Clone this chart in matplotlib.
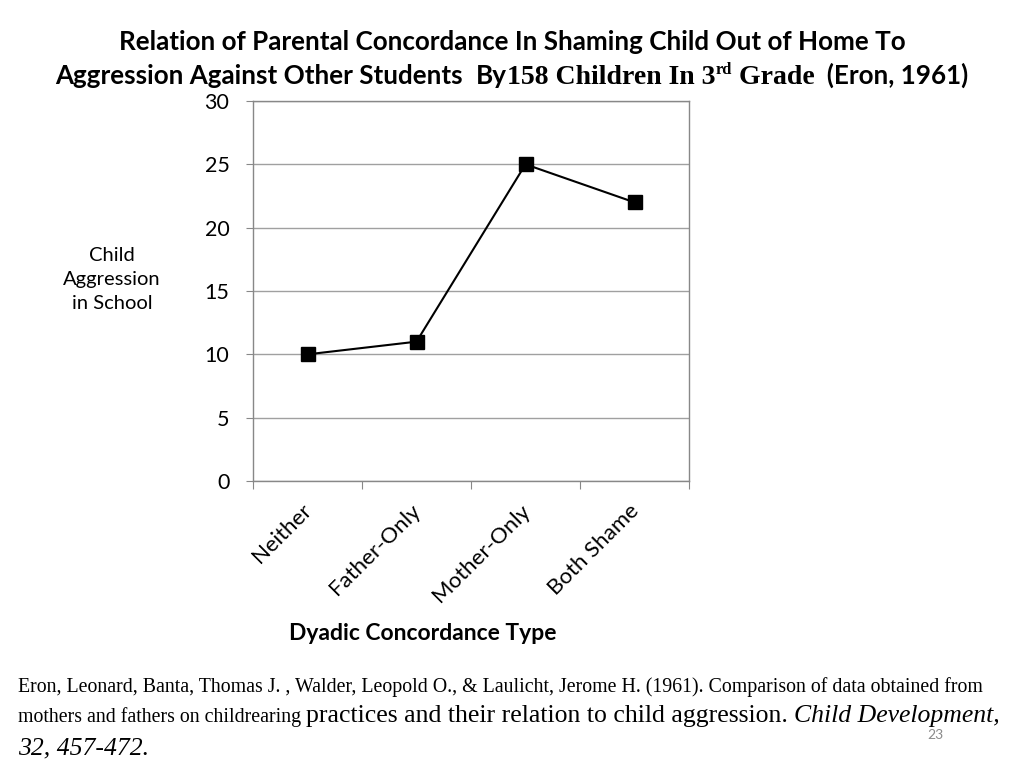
import matplotlib
matplotlib.use("Agg")
import matplotlib.pyplot as plt
from matplotlib.transforms import ScaledTranslation

# data
categories = ['Neither', 'Father-Only', 'Mother-Only', 'Both Shame']
aggression = [10, 11, 25, 22]
yticks = [0, 5, 10, 15, 20, 25, 30]

SANS = 'Lato'
SERIF = 'Liberation Serif'

fig = plt.figure(figsize=(10.24, 7.68), dpi=100)
W, H = 1024, 768
renderer = fig.canvas.get_renderer()


def put_line(runs, x0, y_px, align='left'):
    # runs: (text, kwargs, rise in px); positions in pixels from top-left
    texts = []
    for s, kw, rise in runs:
        t = fig.text(0, 1 - (y_px - rise) / H, s, va='baseline', **kw)
        texts.append(t)
    widths = [t.get_window_extent(renderer).width for t in texts]
    x = x0 - sum(widths) / 2 if align == 'center' else x0
    for t, w in zip(texts, widths):
        t.set_x(x / W)
        x += w


ax = fig.add_axes([253 / W, 1 - 481 / H, (689 - 253) / W, (481 - 101) / H])
xpos = [i + 0.5 for i in range(len(categories))]
ax.plot(xpos, aggression, color='black', lw=1.5, marker='s', ms=10, zorder=3)
ax.set_xlim(0, 4)
ax.set_ylim(0, 30)
ax.set_yticks(yticks)
ax.set_yticklabels([str(v) for v in yticks], fontsize=15.5, fontfamily=SANS)
ax.yaxis.grid(True, color='#a0a0a0', lw=1)
ax.set_axisbelow(True)
ax.set_xticks(range(5))
ax.set_xticklabels([])
ax.set_xticks(xpos, minor=True)
ax.set_xticklabels(categories, minor=True, rotation=45, ha='right',
                   rotation_mode='anchor', fontsize=16, fontfamily=SANS)
ax.tick_params(axis='x', which='minor', length=0, pad=14)
ax.tick_params(axis='x', which='major', length=6, color='#888888', direction='out')
ax.tick_params(axis='y', length=5, color='#888888', direction='out', pad=12)
shift = ScaledTranslation(-6 / 100, 0, fig.dpi_scale_trans)
for lab in ax.get_xticklabels(minor=True):
    lab.set_transform(lab.get_transform() + shift)
for sp in ax.spines.values():
    sp.set_color('#888888')
    sp.set_linewidth(1)

# axis titles
fig.text(112 / W, 1 - 280 / H, 'Child\nAggression\nin School', ha='center', va='center',
         fontsize=14.5, fontfamily=SANS, linespacing=1.5)
fig.text(423 / W, 1 - 634 / H, 'Dyadic Concordance Type', ha='center', va='center',
         fontsize=16.5, fontweight='bold', fontfamily=SANS)

# title
tb = dict(fontsize=18.7, fontweight='bold', fontfamily=SANS)
ts = dict(fontsize=20, fontweight='bold', fontfamily=SERIF)
put_line([('Relation of Parental Concordance In Shaming Child Out of Home To', tb, 0)],
         512, 50, 'center')
put_line([('Aggression Against Other Students  ', tb, 0),
          ('By', tb, 0),
          ('158 Children In 3', ts, 0),
          ('rd', dict(ts, fontsize=12), 10),
          (' Grade', ts, 0),
          ('  (Eron, 1961)', tb, 0)],
         512, 84, 'center')

# citation
cs = dict(fontsize=14.3, fontfamily=SERIF)
cb = dict(fontsize=18.5, fontfamily=SERIF)
ci = dict(fontsize=18.5, fontfamily=SERIF, style='italic')
put_line([('Eron, Leonard, Banta, Thomas J. , Walder, Leopold O., & Laulicht, Jerome H. (1961). '
           'Comparison of data obtained from', cs, 0)], 18, 692)
put_line([('mothers and fathers on childrearing ', cs, 0),
          ('practices and their relation to child aggression. ', cb, 0),
          ('Child Development,', ci, 0)], 18, 722)
put_line([('32, 457-472.', ci, 0)], 18, 754)
fig.text(935 / W, 1 - 735 / H, '23', ha='center', va='center', fontsize=10,
         color='#8c8c8c', fontfamily=SANS)

fig.savefig('out.png', dpi=100)
